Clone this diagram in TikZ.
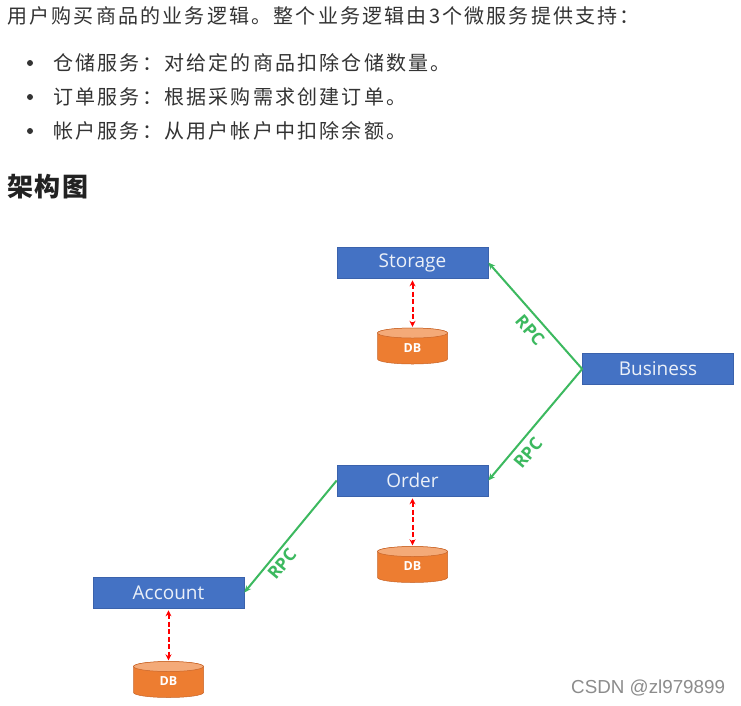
\documentclass[tikz,border=0pt]{standalone}
\usepackage{fontspec}
\usetikzlibrary{arrows.meta}
\newfontfamily\cjk[LetterSpace=11]{Noto Sans CJK SC}
\newfontfamily\cjkh[LetterSpace=6]{Noto Sans CJK SC}
\newfontfamily\boxfont{Open Sans}
\newfontfamily\wmfont{Liberation Sans}
\definecolor{txt}{RGB}{51,51,51}
\definecolor{head}{RGB}{34,34,34}
\definecolor{boxblue}{RGB}{68,114,196}
\definecolor{boxedge}{RGB}{58,98,172}
\definecolor{boxtext}{RGB}{235,240,248}
\definecolor{rpcgreen}{RGB}{60,185,95}
\definecolor{dborange}{RGB}{237,125,49}
\definecolor{dbtop}{RGB}{244,170,120}
\definecolor{dbedge}{RGB}{200,100,40}
\definecolor{wm}{RGB}{140,140,140}
\tikzset{
  svc/.style={draw=boxedge, line width=0.6pt, fill=boxblue, minimum width=151pt, minimum height=31pt, inner sep=0pt, text=boxtext, font=\boxfont\fontsize{19}{21}\selectfont},
  rpc/.style={draw=rpcgreen, line width=2pt, -{Stealth[length=7pt,width=6pt]}},
  dbl/.style={draw=red, dash pattern=on 5pt off 2.5pt, line width=2pt, {Stealth[length=6pt,width=6pt]}-{Stealth[length=6pt,width=6pt]}, shorten <=2pt, shorten >=1pt},
  rpclabel/.style={text=rpcgreen, inner sep=0pt, font=\boxfont\bfseries\fontsize{17.5}{19}\selectfont},
  line/.style={anchor=west, text=txt, inner sep=0pt, font=\cjk\fontsize{20}{22}\selectfont},
  bulletdot/.style={circle, fill=txt, inner sep=0pt, minimum size=6pt},
  dbnode/.style={minimum width=70pt, minimum height=40pt, inner sep=0pt, text=white, font=\boxfont\bfseries\fontsize{12.5}{13}\selectfont}
}
\newcommand\dbcyl[3]{%
  \path[fill=dborange, draw=dbedge, line width=0.5pt] (#2-35,#3+13) -- (#2-35,#3-13) arc[start angle=180,end angle=360,x radius=35,y radius=5] -- (#2+35,#3+13) arc[start angle=0,end angle=180,x radius=35,y radius=5] -- cycle;
  \path[fill=dbtop, draw=dbedge, line width=0.5pt] (#2,#3+13) ellipse[x radius=35, y radius=5];
  \node[dbnode] (#1) at (#2,#3-2) {DB};
}
\begin{document}
\begin{tikzpicture}[x=1pt,y=1pt]
\fill[white] (0,0) rectangle (741,-705);
\path[use as bounding box] (0,0) rectangle (741,-705);

% text
\node[line] (l1) at (7,-16) {用户购买商品的业务逻辑。整个业务逻辑由3个微服务提供支持：};
\node[bulletdot] (b1) at (30,-63) {};
\node[bulletdot] (b2) at (30,-97) {};
\node[bulletdot] (b3) at (30,-131) {};
\node[line] (l2) at (53,-63) {仓储服务：对给定的商品扣除仓储数量。};
\node[line] (l3) at (53,-97) {订单服务：根据采购需求创建订单。};
\node[line] (l4) at (53,-131) {帐户服务：从用户帐户中扣除余额。};
\node[anchor=west, text=head, inner sep=0pt, font=\cjkh\bfseries\fontsize{26}{28}\selectfont] (h) at (7,-187) {架构图};

% services
\node[svc] (storage) at (412.5,-262.5) {Storage};
\node[svc] (business) at (658,-369) {Business};
\node[svc] (order) at (412.5,-480.5) {Order};
\node[svc] (account) at (168.5,-592.5) {Account};

% databases
\dbcyl{sdb}{412.5}{-346}
\dbcyl{odb}{412.5}{-564.5}
\dbcyl{adb}{168.5}{-679.5}

\draw[dbl] (storage.south) -- (sdb.north);
\draw[dbl] (order.south) -- (odb.north);
\draw[dbl] (account.south) -- (adb.north);

% rpc
\draw[rpc] (business.west) -- (storage.east);
\draw[rpc] (business.west) -- (order.east);
\draw[rpc] (order.west) -- (account.east);
\node[rpclabel, rotate=-48.7] (r1) at (530,-330) {RPC};
\node[rpclabel, rotate=49.7] (r2) at (528,-453) {RPC};
\node[rpclabel, rotate=50] (r3) at (282,-564) {RPC};

\node[anchor=west, text=wm, inner sep=0pt, font=\wmfont\fontsize{18.8}{20}\selectfont] (wm) at (571,-688) {CSDN @zl979899};
\end{tikzpicture}
\end{document}
